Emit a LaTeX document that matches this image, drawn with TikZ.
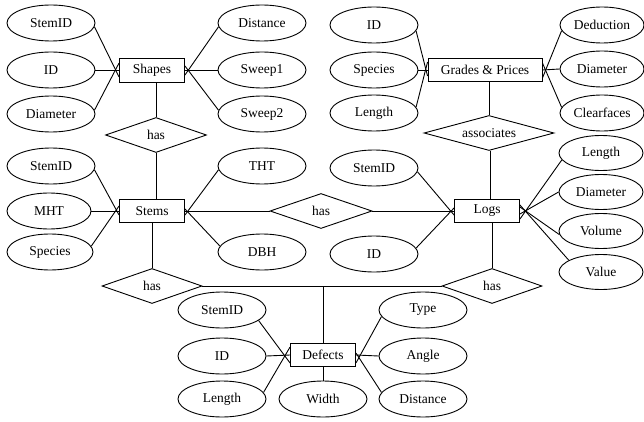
\documentclass[tikz,border=0pt]{standalone}
\usepackage{fontspec}
\setmainfont{Liberation Serif}
\usetikzlibrary{shapes.geometric}
\begin{document}
\begin{tikzpicture}[x=1pt,y=-1pt,
  every node/.style={font=\fontsize{13.5}{16}\selectfont},
  attr/.style={draw,ellipse,minimum width=88pt,minimum height=36pt,inner sep=0pt},
  ent/.style={draw,rectangle,minimum width=65pt,minimum height=23pt,inner sep=0pt},
  rel/.style={draw,diamond,aspect=3,minimum width=101pt,minimum height=35pt,inner sep=0pt},
  line width=0.9pt]
\useasboundingbox (0,0) rectangle (644,422);
% Shapes group
\node[ent,minimum height=24pt] (shapes) at (152,70) {Shapes};
\node[attr] (sh1) at (51,23) {StemID};
\node[attr] (sh2) at (51,70) {ID};
\node[attr] (sh3) at (51,114) {Diameter};
\node[attr] (sh4) at (262,23) {Distance};
\node[attr] (sh5) at (262,70) {Sweep1};
\node[attr] (sh6) at (262,114) {Sweep2};
\node[rel] (has1) at (156,135) {has};
% Grades & Prices group
\node[ent,minimum width=114pt] (grades) at (485,70) {Grades \& Prices};
\node[attr] (gp1) at (374,25) {ID};
\node[attr] (gp2) at (374,70) {Species};
\node[attr] (gp3) at (374,113) {Length};
\node[attr,minimum width=84pt] (gp4) at (602,25) {Deduction};
\node[attr,minimum width=84pt] (gp5) at (602,69) {Diameter};
\node[attr,minimum width=84pt] (gp6) at (602,113) {Clearfaces};
\node[rel,minimum width=130pt] (assoc) at (489,133) {associates};
% Stems group
\node[ent] (stems) at (152,211) {Stems};
\node[attr] (st1) at (51,166) {StemID};
\node[attr,minimum width=84pt] (st2) at (49,211) {MHT};
\node[attr,minimum width=86pt] (st3) at (50,252) {Species};
\node[attr] (st4) at (262,166) {THT};
\node[attr] (st5) at (262,252) {DBH};
\node[rel,minimum width=102pt] (has2) at (321,211) {has};
% Logs group
\node[ent] (logs) at (487,211) {Logs};
\node[attr] (lg1) at (374,168) {StemID};
\node[attr] (lg2) at (374,254) {ID};
\node[attr,minimum width=84pt,minimum height=35pt] (lg3) at (601,153) {Length};
\node[attr,minimum width=84pt,minimum height=35pt] (lg4) at (601,192) {Diameter};
\node[attr,minimum width=84pt,minimum height=35pt] (lg5) at (601,231) {Volume};
\node[attr,minimum width=84pt,minimum height=35pt] (lg6) at (601,272) {Value};
% lower relationships
\node[rel,minimum width=100pt] (has3) at (152,286) {has};
\node[rel,minimum width=100pt] (has4) at (492,286) {has};
% Defects group
\node[ent] (defects) at (323,355) {Defects};
\node[attr] (df1) at (222,310) {StemID};
\node[attr] (df2) at (222,356) {ID};
\node[attr] (df3) at (222,399) {Length};
\node[attr] (df4) at (323,399) {Width};
\node[attr] (df5) at (423,310) {Type};
\node[attr] (df6) at (423,356) {Angle};
\node[attr] (df7) at (423,399) {Distance};
% Shapes connectors
\draw (sh1.-5) -- ([yshift=-7pt]shapes.west);
\draw (sh2.east) -- (shapes.west);
\draw (sh3.5) -- ([yshift=7pt]shapes.west);
\draw (sh4.185) -- ([yshift=-5pt]shapes.east);
\draw (sh5.west) -- (shapes.east);
\draw (sh6.175) -- ([yshift=4pt]shapes.east);
\draw (has1.north) -- (has1.north |- shapes.south);
\draw (has1.south) -- (has1.south |- stems.north);
% Grades connectors
\draw (gp1.-8) -- ([yshift=-6pt]grades.west);
\draw (gp2.east) -- (grades.west);
\draw (gp3.8) -- ([yshift=8pt]grades.west);
\draw (gp4.188) -- ([yshift=-8pt]grades.east);
\draw (gp5.west) -- (grades.east);
\draw (gp6.172) -- ([yshift=7pt]grades.east);
\draw (assoc.north) -- (assoc.north |- grades.south);
\draw ([xshift=1pt]assoc.south) -- ([xshift=1pt]assoc.south |- logs.north);
% Stems connectors
\draw (st1.-5) -- ([yshift=-4pt]stems.west);
\draw (st2.east) -- (stems.west);
\draw (st3.8) -- ([yshift=5pt]stems.west);
\draw (st4.185) -- ([yshift=-4pt]stems.east);
\draw (st5.172) -- ([yshift=2pt]stems.east);
\draw (stems.east) -- (has2.west);
\draw (has2.east) -- (logs.west);
% Logs connectors
\draw (lg1.-5) -- ([yshift=-4pt]logs.west);
\draw (lg2.8) -- ([yshift=3pt]logs.west);
\draw (lg3.190) -- ([yshift=-8pt]logs.east);
\draw (lg4.west) -- ([yshift=-3pt]logs.east);
\draw (lg5.185) -- ([yshift=4pt]logs.east);
\draw (lg6.160) -- ([yshift=6pt]logs.east);
% lower links
\draw (has3.north) -- (has3.north |- stems.south);
\draw (has4.north) -- (has4.north |- logs.south);
\draw (has3.east) -- (has4.west);
\draw (defects.north) -- (defects.north |- has3.east);
% Defects connectors
\draw (df1.-16) -- ([yshift=-8pt]defects.west);
\draw (df2.east) -- (defects.west);
\draw (df3.9) -- ([yshift=8pt]defects.west);
\draw (df4.north) -- (defects.south);
\draw (df5.189) -- ([yshift=-8pt]defects.east);
\draw (df6.west) -- (defects.east);
\draw (df7.171) -- ([yshift=2pt]defects.east);
\end{tikzpicture}
\end{document}
